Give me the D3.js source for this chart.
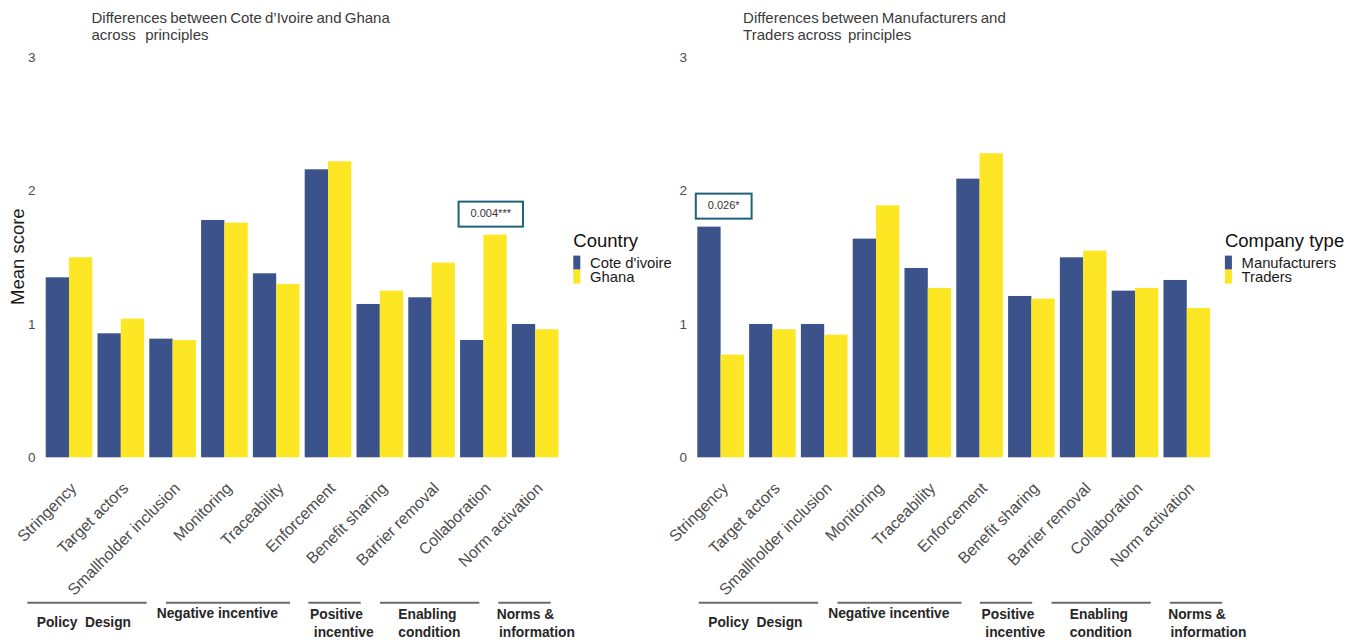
<!DOCTYPE html>
<html>
<head>
<meta charset="utf-8">
<script src="https://cdn.jsdelivr.net/npm/d3@7"></script>
<style>
  html, body { margin: 0; padding: 0; background: #ffffff; }
  svg { display: block; font-family: "Liberation Sans", Arial, sans-serif; }
  text { white-space: pre; }
</style>
</head>
<body>
<svg id="chart" width="1358" height="640"></svg>
<script>
// ---- data ----------------------------------------------------------------
const categories = [
  "Stringency", "Target actors", "Smallholder inclusion", "Monitoring",
  "Traceability", "Enforcement", "Benefit sharing", "Barrier removal",
  "Collaboration", "Norm activation"
];

// mean scores by country
const countryNames = ["Cote d'ivoire", "Ghana"];
const coteDivoire = [1.35, 0.93, 0.89, 1.78, 1.38, 2.16, 1.15, 1.20, 0.88, 1.00];
const ghana       = [1.50, 1.04, 0.88, 1.76, 1.30, 2.22, 1.25, 1.46, 1.67, 0.96];

// mean scores by company type
const companyNames  = ["Manufacturers", "Traders"];
const manufacturers = [1.73, 1.00, 1.00, 1.64, 1.42, 2.09, 1.21, 1.50, 1.25, 1.33];
const traders       = [0.77, 0.96, 0.92, 1.89, 1.27, 2.28, 1.19, 1.55, 1.27, 1.12];

const yTicks = [0, 1, 2, 3];

// principle families under the category labels
const principleGroups = [
  ["Policy  Design"],
  ["Negative incentive"],
  ["Positive", " incentive"],
  ["Enabling", "condition"],
  ["Norms &", "information"]
];

// significance notes
const countryNote = { category: "Collaboration", label: "0.004***" };
const companyNote = { category: "Stringency", label: "0.026*" };

// ---- layout --------------------------------------------------------------
const seriesColors = ["#3B528B", "#FDE725"];
const groupLayout = [
  { line: [27.3, 146.7],  text: [[36.7, 626.7]] },
  { line: [166, 290],     text: [[156.7, 618.3]] },
  { line: [308.3, 360.7], text: [[310, 619], [310, 636.7]] },
  { line: [380, 479.3],   text: [[398.3, 619], [398.3, 636.7]] },
  { line: [498.3, 550.7], text: [[496.7, 619], [499, 636.7]] }
];

const panels = [
  {
    dx: 0, groupDx: 0, yTitle: "Mean score",
    title: ["Differences between Cote d\u2019Ivoire and Ghana", "across   principles"],
    legendTitle: "Country", names: countryNames, series: [coteDivoire, ghana],
    note: countryNote
  },
  {
    dx: 651.6, groupDx: 671.5, yTitle: null,
    title: ["Differences between Manufacturers and", "Traders across  principles"],
    legendTitle: "Company type", names: companyNames, series: [manufacturers, traders],
    note: companyNote
  }
];

const svg = d3.select("#chart");

const y = d3.scaleLinear().domain([0, 3]).range([457.3, 57.3]);

panels.forEach(p => {
  const g = svg.append("g");

  const x0 = d3.scaleBand()
    .domain(categories)
    .range([45.7 + p.dx, 558.5 + p.dx])
    .paddingInner(0.1)
    .paddingOuter(0);
  const x1 = d3.scaleBand()
    .domain(d3.range(p.series.length))
    .range([0, x0.bandwidth()]);

  // title
  const title = g.append("text")
    .attr("x", 91.5 + p.dx)
    .attr("y", 23.3)
    .attr("font-size", 15)
    .attr("fill", "#3a3a3a")
    .attr("word-spacing", "-1px");
  p.title.forEach((line, i) => {
    title.append("tspan")
      .attr("x", 91.5 + p.dx)
      .attr("dy", i === 0 ? 0 : 17)
      .text(line);
  });

  // y axis (labels only)
  const yAxis = g.append("g")
    .attr("transform", `translate(${35.5 + p.dx},0)`)
    .call(d3.axisLeft(y).tickValues(yTicks).tickSize(0).tickPadding(0).tickFormat(d3.format("d")));
  yAxis.select(".domain").remove();
  yAxis.selectAll("text")
    .attr("font-family", null)
    .attr("font-size", 13.5)
    .attr("fill", "#4d4d4d");

  if (p.yTitle) {
    g.append("text")
      .attr("transform", `translate(${23.5 + p.dx},256.7) rotate(-90)`)
      .attr("text-anchor", "middle")
      .attr("font-size", 18.5)
      .attr("fill", "#1a1a1a")
      .text(p.yTitle);
  }

  // bars
  const rows = categories.map((c, i) => ({ category: c, values: p.series.map(s => s[i]) }));
  g.append("g").selectAll("g")
    .data(rows)
    .join("g")
    .attr("transform", d => `translate(${x0(d.category)},0)`)
    .selectAll("rect")
    .data(d => d.values.map((v, k) => ({ k, v })))
    .join("rect")
    .attr("x", d => x1(d.k))
    .attr("y", d => y(d.v))
    .attr("width", x1.bandwidth())
    .attr("height", d => y(0) - y(d.v))
    .attr("fill", d => seriesColors[d.k]);

  // x axis labels
  const xAxis = g.append("g")
    .attr("transform", `translate(0,${y(0)})`)
    .call(d3.axisBottom(x0).tickSize(0));
  xAxis.select(".domain").remove();
  xAxis.selectAll("text")
    .attr("font-family", null)
    .attr("font-size", 16)
    .attr("fill", "#4d4d4d")
    .attr("x", 0)
    .attr("y", 0)
    .attr("dy", null)
    .attr("text-anchor", "end")
    .attr("transform", "translate(8.5,32) rotate(-45)");

  // significance note box
  const ni = categories.indexOf(p.note.category);
  const top = d3.max(p.series, s => s[ni]);
  const noteG = g.append("g");
  const noteText = noteG.append("text")
    .attr("font-size", 11)
    .attr("fill", "#333333")
    .attr("text-anchor", "middle")
    .text(p.note.label);
  const tw = noteText.node().getComputedTextLength();
  const bw = tw + 24, bh = 25;
  const bx = x0(p.note.category) - 1.5;
  const by = y(top) - 8 - bh;
  noteG.insert("rect", "text")
    .attr("x", bx).attr("y", by)
    .attr("width", bw).attr("height", bh)
    .attr("fill", "#ffffff")
    .attr("stroke", "#1E6378")
    .attr("stroke-width", 2);
  noteText.attr("x", bx + bw / 2).attr("y", by + bh - 9.5);

  // legend
  const lg = g.append("g").attr("transform", `translate(${573.3 + p.dx},0)`);
  lg.append("text")
    .attr("x", 0).attr("y", 246.5)
    .attr("font-size", 18.5)
    .attr("fill", "#111111")
    .text(p.legendTitle);
  p.names.forEach((n, i) => {
    lg.append("rect")
      .attr("x", 0).attr("y", 255.6 + i * 14)
      .attr("width", 7).attr("height", 14)
      .attr("fill", seriesColors[i]);
    lg.append("text")
      .attr("x", 16.7).attr("y", 268.3 + i * 13.6)
      .attr("font-size", 14.8)
      .attr("fill", "#1a1a1a")
      .text(n);
  });

  // principle family brackets
  const gg = g.append("g").attr("transform", `translate(${p.groupDx},0)`);
  principleGroups.forEach((lines, i) => {
    const L = groupLayout[i];
    gg.append("line")
      .attr("x1", L.line[0]).attr("x2", L.line[1])
      .attr("y1", 602.7).attr("y2", 602.7)
      .attr("stroke", "#6b6b6b")
      .attr("stroke-width", 2);
    lines.forEach((t, j) => {
      gg.append("text")
        .attr("x", L.text[j][0]).attr("y", L.text[j][1])
        .attr("font-size", 13.8)
        .attr("font-weight", "bold")
        .attr("fill", "#262626")
        .text(t);
    });
  });
});
</script>
</body>
</html>
